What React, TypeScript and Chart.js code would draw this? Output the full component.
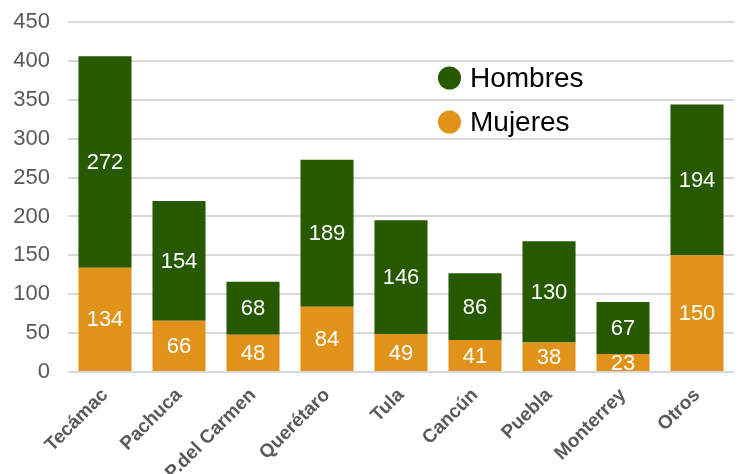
import React, { useEffect, useRef } from "react";
import { Chart, registerables } from "chart.js";

Chart.register(...registerables);

const categories = ["Tecámac", "Pachuca", "P.del Carmen", "Querétaro", "Tula", "Cancún", "Puebla", "Monterrey", "Otros"];
const mujeres = [134, 66, 48, 84, 49, 41, 38, 23, 150];
const hombres = [272, 154, 68, 189, 146, 86, 130, 67, 194];
const yTicks = [0, 50, 100, 150, 200, 250, 300, 350, 400, 450];
const seriesNames = ["Hombres", "Mujeres"];

const GREEN = "#265900";
const ORANGE = "#E09318";
const FONT = "'Liberation Sans', Arial, Helvetica, sans-serif";

const dataLabels = {
  id: "dataLabels",
  afterDatasetsDraw(chart: any) {
    const ctx = chart.ctx;
    ctx.save();
    ctx.font = `22px ${FONT}`;
    ctx.fillStyle = "#ffffff";
    ctx.textAlign = "center";
    ctx.textBaseline = "middle";
    chart.data.datasets.forEach((ds: any, i: number) => {
      const meta = chart.getDatasetMeta(i);
      meta.data.forEach((el: any, j: number) => {
        const { x, y, base } = el.getProps(["x", "y", "base"], true);
        ctx.fillText(String(ds.data[j]), x, (y + base) / 2 + 1);
      });
    });
    ctx.restore();
  },
};

const innerLegend = {
  id: "innerLegend",
  afterDraw(chart: any) {
    const ctx = chart.ctx;
    const items = [
      { label: seriesNames[0], color: GREEN },
      { label: seriesNames[1], color: ORANGE },
    ];
    ctx.save();
    ctx.font = `28px ${FONT}`;
    ctx.textAlign = "left";
    ctx.textBaseline = "middle";
    items.forEach((it, i) => {
      const cy = 78 + i * 44;
      ctx.beginPath();
      ctx.arc(449.5, cy, 11.5, 0, Math.PI * 2);
      ctx.fillStyle = it.color;
      ctx.fill();
      ctx.fillStyle = "#000000";
      ctx.fillText(it.label, 470, cy + 1);
    });
    ctx.restore();
  },
};

export default function App() {
  const ref = useRef<HTMLCanvasElement | null>(null);
  useEffect(() => {
    document.body.style.margin = "0";
    const chart = new Chart(ref.current as HTMLCanvasElement, {
      type: "bar",
      data: {
        labels: categories,
        datasets: [
          { label: seriesNames[1], data: mujeres, backgroundColor: ORANGE, stack: "s" },
          { label: seriesNames[0], data: hombres, backgroundColor: GREEN, stack: "s" },
        ],
      },
      options: {
        animation: false,
        responsive: false,
        layout: { padding: { top: 22, right: 6, left: 0, bottom: 0 } },
        datasets: { bar: { categoryPercentage: 1, barPercentage: 0.717 } } as any,
        plugins: {
          legend: { display: false },
          tooltip: { enabled: false },
        },
        scales: {
          x: {
            stacked: true,
            grid: { display: false },
            border: { display: false },
            afterFit: (scale: any) => {
              scale.height = 102;
            },
            ticks: {
              autoSkip: false,
              minRotation: 45,
              maxRotation: 45,
              padding: 4,
              color: "#595959",
              font: { family: FONT, size: 19, weight: "bold" },
            },
          },
          y: {
            stacked: true,
            min: 0,
            max: 450,
            border: { display: false },
            afterFit: (scale: any) => {
              scale.width = 68;
              scale.paddingTop = 0;
              scale.paddingBottom = 0;
            },
            afterBuildTicks: (scale: any) => {
              scale.ticks = yTicks.map((v) => ({ value: v }));
            },
            grid: { color: "#d9d9d9", lineWidth: 2, drawTicks: false },
            ticks: {
              padding: 18,
              color: "#595959",
              font: { family: FONT, size: 22 },
            },
          },
        },
      },
      plugins: [dataLabels, innerLegend],
    });
    return () => chart.destroy();
  }, []);
  return (
    <div style={{ width: 740, height: 474, overflow: "hidden" }}>
      <canvas ref={ref} width={740} height={474} style={{ display: "block" }} />
    </div>
  );
}
